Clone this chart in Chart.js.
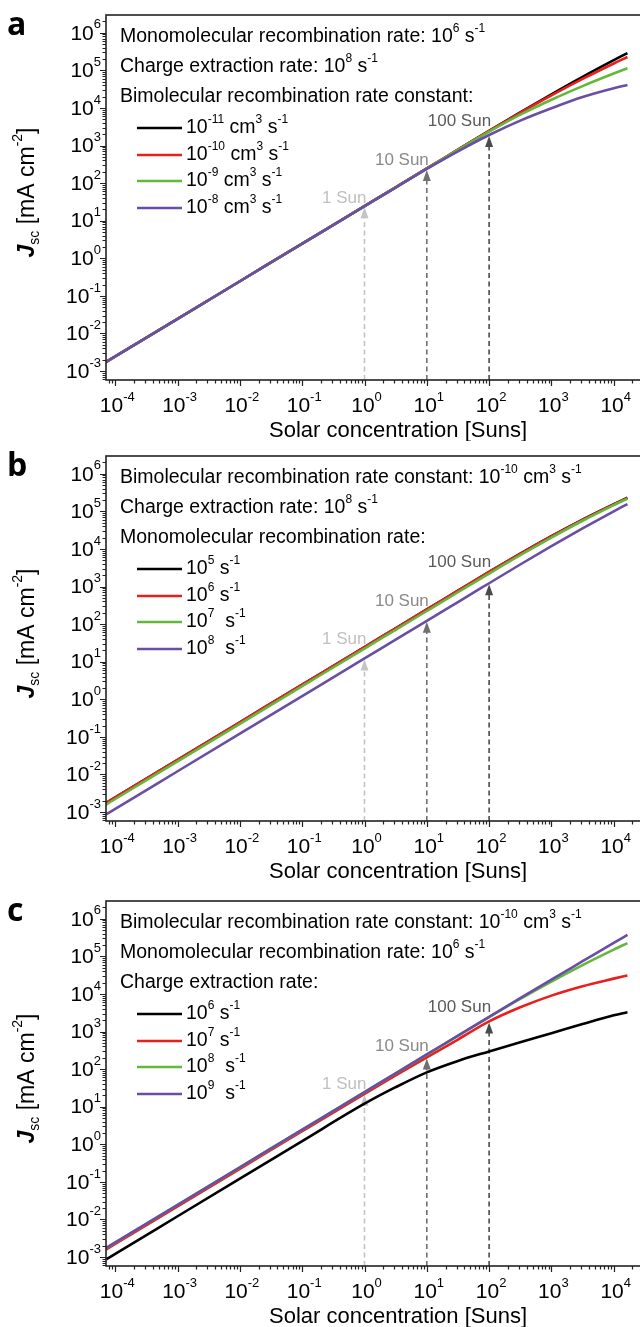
<!DOCTYPE html>
<html>
<head>
<meta charset="utf-8">
<script src="https://cdn.jsdelivr.net/npm/chart.js@4/dist/chart.umd.min.js"></script>
<style>
  html, body { margin: 0; padding: 0; background: #fff; overflow: hidden; width: 640px; height: 1327px; }
  canvas { position: absolute; left: 0; }
</style>
</head>
<body>
<canvas id="ca" width="700" height="441" style="top:0px"></canvas>
<canvas id="cb" width="700" height="441" style="top:441px"></canvas>
<canvas id="cc" width="700" height="441" style="top:886px"></canvas>
<script>
"use strict";
const suns = [7.1e-5, 1e-4, 1e-3, 1e-2, 1e-1, 1, 3.16, 10, 31.6, 100, 316, 1000, 3162, 10000, 16600];

// Panel a: bimolecular recombination rate constant
const aK11 = [1.74e-3, 2.45e-3, 0.0245, 0.245, 2.45, 24.5, 77.4, 245, 774, 2450, 7600, 23000, 67000, 186000, 288000];
const aK10 = [1.74e-3, 2.45e-3, 0.0245, 0.245, 2.45, 24.5, 77.4, 245, 772, 2440, 7400, 21500, 59000, 152000, 226000];
const aK9  = [1.74e-3, 2.45e-3, 0.0245, 0.245, 2.45, 24.5, 77.2, 244, 765, 2330, 6600, 16500, 38000, 82000, 113000];
const aK8  = [1.74e-3, 2.45e-3, 0.0245, 0.245, 2.45, 24.4, 76, 238, 700, 1900, 4600, 9800, 19500, 33500, 40700];

// Panel b: monomolecular recombination rate
const bM5 = [1.74e-3, 2.45e-3, 0.0245, 0.245, 2.45, 24.5, 77.4, 245, 774, 2450, 7450, 21800, 60000, 154000, 230000];
const bM6 = [1.74e-3, 2.45e-3, 0.0245, 0.245, 2.45, 24.5, 77.4, 245, 772, 2440, 7400, 21500, 59000, 152000, 226000];
const bM7 = [1.58e-3, 2.23e-3, 0.0223, 0.223, 2.23, 22.3, 70.5, 223, 703, 2210, 6800, 20000, 56000, 146000, 218000];
const bM8 = [8.7e-4, 1.22e-3, 0.0122, 0.122, 1.22, 12.2, 38.7, 122, 386, 1220, 3850, 11800, 35000, 100000, 156000];

// Panel c: charge extraction rate
const cE6 = [8.7e-4, 1.22e-3, 0.0122, 0.122, 1.22, 12, 33, 82, 165, 295, 520, 900, 1580, 2700, 3250];
const cE7 = [1.58e-3, 2.23e-3, 0.0223, 0.223, 2.23, 22, 68, 205, 610, 1850, 4400, 9000, 16000, 25500, 31000];
const cE8 = [1.72e-3, 2.43e-3, 0.0243, 0.243, 2.43, 24.3, 76.8, 243, 766, 2420, 7350, 21300, 58500, 151000, 225000];
const cE9 = [1.74e-3, 2.45e-3, 0.0245, 0.245, 2.45, 24.5, 77.4, 245, 774, 2450, 7700, 24000, 74000, 228000, 370000];

// arrows at 1, 10, 100 Sun
const arrowSuns = [1, 10, 100];
const arrowText = ["1 Sun", "10 Sun", "100 Sun"];
const arrowLabelY = [40, 410, 4300];
const arrowTipsA = [24.4, 238, 1900];
const arrowTipsB = [12.2, 122, 1220];
const arrowTipsC = [22, 205, 1850];

// axis ticks (powers of ten)
const xExp = [-4, -3, -2, -1, 0, 1, 2, 3, 4];
const yExp = [-3, -2, -1, 0, 1, 2, 3, 4, 5, 6];

const headersA = ["Monomolecular recombination rate: 10^{6} s^{-1}", "Charge extraction rate: 10^{8} s^{-1}", "Bimolecular recombination rate constant:"];
const legendA = ["10^{-11} cm^{3} s^{-1}", "10^{-10} cm^{3} s^{-1}", "10^{-9} cm^{3} s^{-1}", "10^{-8} cm^{3} s^{-1}"];
const headersB = ["Bimolecular recombination rate constant: 10^{-10} cm^{3} s^{-1}", "Charge extraction rate: 10^{8} s^{-1}", "Monomolecular recombination rate:"];
const legendB = ["10^{5} s^{-1}", "10^{6} s^{-1}", "10^{7}  s^{-1}", "10^{8}  s^{-1}"];
const headersC = ["Bimolecular recombination rate constant: 10^{-10} cm^{3} s^{-1}", "Monomolecular recombination rate: 10^{6} s^{-1}", "Charge extraction rate:"];
const legendC = ["10^{6} s^{-1}", "10^{7} s^{-1}", "10^{8}  s^{-1}", "10^{9}  s^{-1}"];

const colors = ["#000000", "#e8201c", "#63b83c", "#6a4ea6"];
const arrowColors = ["#c4c4c4", "#707070", "#4a4a4a"];
const labelColors = ["#c0c0c0", "#8a8a8a", "#5a5a5a"];

const FONT = '"Liberation Sans", Arial, sans-serif';

function parseRich(s) {
  const out = [];
  const re = /([\^_!])\{([^}]*)\}|([^\^_!]+)/g;
  let m;
  while ((m = re.exec(s))) {
    if (m[3]) out.push({ t: m[3], k: "n" });
    else out.push({ t: m[2], k: m[1] });
  }
  return out;
}
function segFont(k, size) {
  if (k === "^" || k === "_") return Math.round(size * 0.62) + "px " + FONT;
  if (k === "!") return "italic bold " + size + "px " + FONT;
  return size + "px " + FONT;
}
function drawRich(ctx, s, x, y, size, align, color) {
  const segs = parseRich(s);
  ctx.save();
  ctx.textBaseline = "middle";
  ctx.textAlign = "left";
  ctx.fillStyle = color || "#000";
  let w = 0;
  segs.forEach(g => { ctx.font = segFont(g.k, size); g.w = ctx.measureText(g.t).width; w += g.w; });
  let cx = align === "right" ? x - w : align === "center" ? x - w / 2 : x;
  segs.forEach(g => {
    ctx.font = segFont(g.k, size);
    const dy = g.k === "^" ? -size * 0.42 : g.k === "_" ? size * 0.3 : 0;
    ctx.fillText(g.t, cx, y + dy);
    cx += g.w;
  });
  ctx.restore();
}

const decor = {
  id: "decor",
  beforeDatasetsDraw(chart, args, o) {
    const ctx = chart.ctx, xs = chart.scales.x, ys = chart.scales.y;
    const bottom = chart.chartArea.bottom;
    ctx.save();
    arrowSuns.forEach((s, i) => {
      const px = xs.getPixelForValue(s);
      const tip = ys.getPixelForValue(o.tips[i]) + 1;
      ctx.strokeStyle = arrowColors[i];
      ctx.fillStyle = arrowColors[i];
      ctx.lineWidth = 1.6;
      ctx.setLineDash([5, 3.5]);
      ctx.beginPath();
      ctx.moveTo(px, bottom);
      ctx.lineTo(px, tip + 9);
      ctx.stroke();
      ctx.setLineDash([]);
      ctx.beginPath();
      ctx.moveTo(px, tip);
      ctx.lineTo(px - 4, tip + 11);
      ctx.lineTo(px + 4, tip + 11);
      ctx.closePath();
      ctx.fill();
      drawRich(ctx, arrowText[i], px + 2, ys.getPixelForValue(arrowLabelY[i]), 17, "right", labelColors[i]);
    });
    ctx.restore();
  },
  afterDraw(chart, args, o) {
    const ctx = chart.ctx, xs = chart.scales.x, ys = chart.scales.y;
    const a = chart.chartArea;
    ctx.save();
    // frame
    ctx.strokeStyle = "#222";
    ctx.lineWidth = 1.6;
    ctx.strokeRect(a.left, a.top, a.right - a.left, a.bottom - a.top);
    // minor and major tick marks
    ctx.lineWidth = 1.2;
    ctx.beginPath();
    for (let e = -4; e <= 6; e++) {
      for (let m = 1; m <= 9; m++) {
        const v = m * Math.pow(10, e);
        if (v < ys.min || v > ys.max) continue;
        const py = Math.round(ys.getPixelForValue(v)) + 0.5;
        ctx.moveTo(a.left, py);
        ctx.lineTo(a.left - (m === 1 ? 6 : 3.5), py);
      }
    }
    for (let e = -5; e <= 5; e++) {
      for (let m = 1; m <= 9; m++) {
        const v = m * Math.pow(10, e);
        if (v < xs.min || v > xs.max) continue;
        const px = Math.round(xs.getPixelForValue(v)) + 0.5;
        ctx.moveTo(px, a.bottom);
        ctx.lineTo(px, a.bottom + (m === 1 ? 6 : 3.5));
      }
    }
    ctx.stroke();
    // tick labels
    yExp.forEach(e => {
      drawRich(ctx, "10^{" + e + "}", a.left - 5, ys.getPixelForValue(Math.pow(10, e)) + 1, 21, "right");
    });
    xExp.forEach(e => {
      drawRich(ctx, "10^{" + e + "}", xs.getPixelForValue(Math.pow(10, e)) + 2, a.bottom + 26, 21, "center");
    });
    // axis titles
    drawRich(ctx, "Solar concentration [Suns]", 398, a.bottom + 51, 22, "center");
    ctx.save();
    ctx.translate(28, (a.top + a.bottom) / 2 - 5);
    ctx.rotate(-Math.PI / 2);
    drawRich(ctx, "!{J}_{sc} [mA cm^{-2}]", 0, 0, 23, "center");
    ctx.restore();
    // panel letter
    ctx.font = "bold 32px 'Open Sans', sans-serif";
    ctx.fillStyle = "#000";
    ctx.textBaseline = "alphabetic";
    ctx.fillText(o.letter, 7, 35);
    // header texts and legend
    const hy = [37, 67, 97];
    o.headers.forEach((h, i) => drawRich(ctx, h, 120, a.top + hy[i] - 15, 19.5, "left"));
    const ly = [128, 155, 181, 208];
    o.legend.forEach((t, i) => {
      ctx.strokeStyle = colors[i];
      ctx.lineWidth = 2.6;
      ctx.beginPath();
      ctx.moveTo(137, a.top + ly[i] - 15);
      ctx.lineTo(182, a.top + ly[i] - 15);
      ctx.stroke();
      drawRich(ctx, t, 186, a.top + ly[i] - 15, 19.5, "left");
    });
    ctx.restore();
  }
};

function makeChart(id, series, opts) {
  const datasets = series.map((s, i) => ({
    data: suns.map((x, j) => ({ x: x, y: s[j] })),
    borderColor: colors[i],
    borderWidth: 2.6,
    pointRadius: 0,
    fill: false,
    cubicInterpolationMode: "monotone",
    order: 3 - i
  }));
  return new Chart(document.getElementById(id), {
    type: "line",
    data: { datasets: datasets },
    plugins: [decor],
    options: {
      responsive: false,
      animation: false,
      devicePixelRatio: 1,
      layout: { padding: { top: 15, left: 0, right: 15, bottom: 0 } },
      scales: {
        x: {
          type: "logarithmic",
          bounds: "data",
          min: Math.pow(10, -4.149),
          max: Math.pow(10, 5.144),
          grid: { display: false },
          border: { display: false },
          ticks: { display: false },
          afterFit: s => { s.height = 61; }
        },
        y: {
          type: "logarithmic",
          bounds: "data",
          min: Math.pow(10, -3.237),
          max: Math.pow(10, 6.471),
          grid: { display: false },
          border: { display: false },
          ticks: { display: false },
          afterFit: s => { s.width = 106; }
        }
      },
      plugins: {
        legend: { display: false },
        tooltip: { enabled: false },
        decor: opts
      }
    }
  });
}

makeChart("ca", [aK11, aK10, aK9, aK8], { letter: "a", headers: headersA, legend: legendA, tips: arrowTipsA });
makeChart("cb", [bM5, bM6, bM7, bM8], { letter: "b", headers: headersB, legend: legendB, tips: arrowTipsB });
makeChart("cc", [cE6, cE7, cE8, cE9], { letter: "c", headers: headersC, legend: legendC, tips: arrowTipsC });
</script>
</body>
</html>
